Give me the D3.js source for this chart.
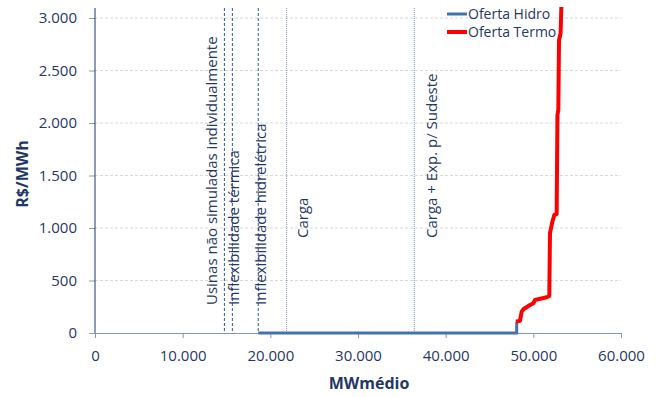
<!DOCTYPE html>
<html>
<head>
<meta charset="utf-8">
<script src="https://cdn.jsdelivr.net/npm/d3@7"></script>
<style>
  body { margin: 0; background: #fff; }
  text { font-family: "Open Sans", "Noto Sans", sans-serif; fill: #1f3864; }
</style>
</head>
<body>
<div class="chart"></div>
<script>
// valores
const xTicks = [0, 10000, 20000, 30000, 40000, 50000, 60000];
const yTicks = [0, 500, 1000, 1500, 2000, 2500, 3000];

const hidroMW = [18620, 48100, 48100];
const hidroPreco = [0, 0, 108];

const termoMW = [48020, 48480, 48670, 48860, 49620, 50000, 50190, 51530, 51820, 51900, 52170, 52390, 52660, 52750, 52850, 52930, 53110, 53230];
const termoPreco = [108, 117, 203, 226, 267, 283, 314, 340, 352, 950, 1060, 1124, 1133, 2076, 2124, 2790, 2854, 3200];

const marcoMW = [14760, 15670, 18620, 21860, 36420];
const marcoRotulo = [
  "Usinas não simuladas individualmente",
  "Inflexibilidade térmica",
  "Inflexibilidade hidrelétrica",
  "Carga",
  "Carga + Exp. p/ Sudeste"
];
const legenda = ["Oferta Hidro", "Oferta Termo"];

// layout dos rotulos (deslocamento da linha, base do texto, estilo da linha)
const rotuloDx = [-7, 7, 8, 21, 23];
const rotuloBase = [305, 305, 305, 238, 238];
const marcoForte = [true, true, true, false, false];

const margin = { top: 18, right: 35, bottom: 64, left: 95 };
const width = 656 - margin.left - margin.right;
const height = 397 - margin.top - margin.bottom;

const loc = d3.formatLocale({ decimal: ",", thousands: ".", grouping: [3], currency: ["R$", ""] });
const fmt = loc.format(",d");

const svg = d3.select('.chart')
  .append('svg')
  .attr('width', 656)
  .attr('height', 397)
  .append('g')
  .attr('transform', `translate(${margin.left}, ${margin.top})`);

const xScale = d3.scaleLinear().domain([0, 60000]).range([0, width]);
const yScale = d3.scaleLinear().domain([0, 3000]).range([height, 0]);

svg.append('clipPath').attr('id', 'plot')
  .append('rect')
  .attr('x', 0).attr('y', -11)
  .attr('width', width).attr('height', height + 11);

// grade
svg.append('g')
  .selectAll('line')
  .data(yTicks.filter(d => d > 0))
  .enter()
  .append('line')
  .attr('x1', 0).attr('x2', width)
  .attr('y1', d => yScale(d)).attr('y2', d => yScale(d))
  .attr('stroke', '#d9d9d9')
  .attr('stroke-dasharray', '3,2');

// eixo x
const xAxis = d3.axisBottom(xScale).tickValues(xTicks).tickSize(5).tickPadding(12).tickFormat(fmt);
const gx = svg.append('g')
  .attr('transform', `translate(0, ${height})`)
  .call(xAxis);
gx.select('.domain').attr('stroke', '#8596b8');
gx.selectAll('.tick line').attr('stroke', '#8596b8');
gx.selectAll('text').style('font-size', '15px').attr('fill', '#1f3864');

// eixo y
const yAxis = d3.axisLeft(yScale).tickValues(yTicks).tickSize(6).tickPadding(12).tickFormat(fmt);
const gy = svg.append('g').call(yAxis);
gy.select('.domain').remove();
gy.selectAll('.tick line').attr('stroke', '#8c9bb5');
gy.selectAll('text').style('font-size', '15px').attr('fill', '#1f3864');
svg.append('line')
  .attr('x1', 0).attr('x2', 0)
  .attr('y1', -10).attr('y2', height)
  .attr('stroke', '#1f3864');

// marcos verticais
svg.append('g')
  .selectAll('line')
  .data(marcoMW)
  .enter()
  .append('line')
  .attr('x1', d => xScale(d)).attr('x2', d => xScale(d))
  .attr('y1', -10).attr('y2', height)
  .attr('stroke', (d, i) => marcoForte[i] ? '#2f5597' : '#7f93bd')
  .attr('stroke-width', 1)
  .attr('stroke-dasharray', (d, i) => marcoForte[i] ? '3,2' : '1,1');

svg.append('g')
  .selectAll('text')
  .data(marcoRotulo)
  .enter()
  .append('text')
  .attr('transform', (d, i) => `translate(${xScale(marcoMW[i]) + rotuloDx[i]}, ${rotuloBase[i] - margin.top}) rotate(-90)`)
  .style('font-size', '15px')
  .text(d => d);

// series
const line = d3.line().x(d => xScale(d[0])).y(d => yScale(d[1]));

svg.append('path')
  .datum(hidroMW.map((d, i) => [d, hidroPreco[i]]))
  .attr('d', line)
  .attr('fill', 'none')
  .attr('stroke', '#4472aa')
  .attr('stroke-width', 3);

svg.append('path')
  .datum(termoMW.map((d, i) => [d, termoPreco[i]]))
  .attr('clip-path', 'url(#plot)')
  .attr('d', line)
  .attr('fill', 'none')
  .attr('stroke', '#ff0000')
  .attr('stroke-width', 4)
  .attr('stroke-linejoin', 'round');

// legenda
const leg = svg.append('g').attr('transform', `translate(${447 - margin.left}, ${14 - margin.top})`);
leg.selectAll('line')
  .data(legenda)
  .enter()
  .append('line')
  .attr('x1', 0).attr('x2', 20)
  .attr('y1', (d, i) => i * 18).attr('y2', (d, i) => i * 18)
  .attr('stroke', (d, i) => i ? '#ff0000' : '#4472aa')
  .attr('stroke-width', (d, i) => i ? 4 : 3);
leg.selectAll('text')
  .data(legenda)
  .enter()
  .append('text')
  .attr('x', 21)
  .attr('y', (d, i) => i * 18)
  .attr('dy', '0.35em')
  .style('font-size', '14px')
  .text(d => d);

// titulos dos eixos
svg.append('text')
  .attr('x', width / 2 + 11)
  .attr('y', height + 56)
  .attr('text-anchor', 'middle')
  .style('font-size', '16px')
  .style('font-weight', 'bold')
  .text('MWmédio');

svg.append('text')
  .attr('transform', `translate(${-67}, ${174 - margin.top}) rotate(-90)`)
  .attr('text-anchor', 'middle')
  .style('font-size', '16px')
  .style('font-weight', 'bold')
  .text('R$/MWh');
</script>
</body>
</html>
